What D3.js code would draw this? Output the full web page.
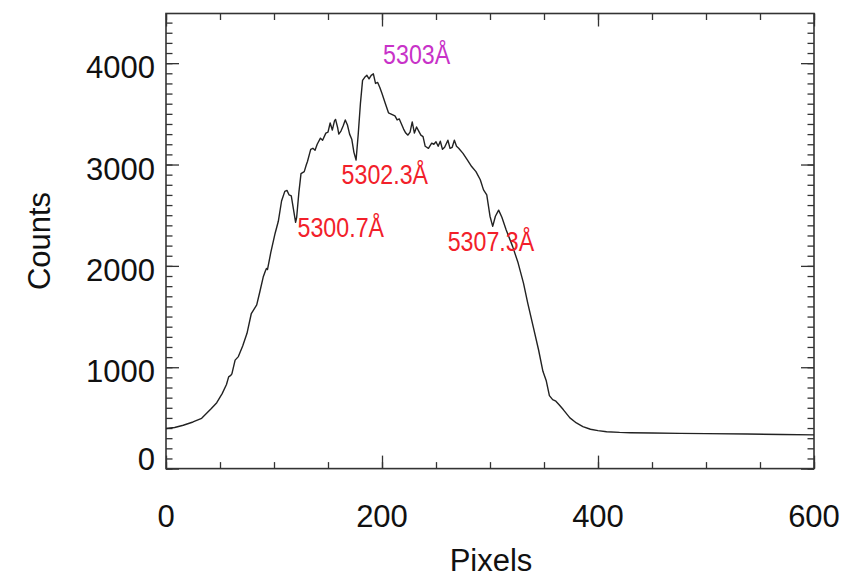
<!DOCTYPE html>
<html>
<head>
<meta charset="utf-8">
<script src="https://cdn.jsdelivr.net/npm/d3@7"></script>
<style>
  body { margin: 0; background: #fff; }
  text { font-family: "Liberation Sans", Arial, Helvetica, sans-serif; }
</style>
</head>
<body>
<script>
// spectrum: detector pixel vs counts
var pixels = [0, 8, 16, 25, 33, 42, 47, 52, 56, 58, 60, 61, 64, 67, 71, 75, 79, 82, 84, 87,
  90, 92, 93, 94, 97, 101, 104, 107, 110, 112, 114, 116, 118, 120, 121, 123, 125, 128, 130, 131,
  133, 134, 136, 138, 140, 143, 145, 148, 150, 152, 154, 156, 157, 159, 160, 162, 164, 166, 168, 170,
  172, 174, 176, 178, 180, 182, 184, 186, 188, 190, 192, 194, 196, 198, 200, 203, 206, 208, 210, 212,
  214, 216, 218, 220, 222, 224, 226, 228, 230, 232, 234, 236, 238, 240, 243, 246, 248, 250, 252, 254,
  256, 258, 261, 263, 265, 267, 269, 271, 275, 279, 283, 287, 291, 294, 297, 300, 302.5, 305, 308, 311,
  315, 321, 326, 331, 335, 340, 345, 349, 352, 355, 358, 361, 364, 368, 374, 380, 386, 393, 400, 408,
  420, 430, 450, 476, 500, 538, 570, 600];
var counts = [395, 405, 428, 460, 496, 592, 650, 740, 830, 905, 920, 935, 1070, 1105, 1210, 1335, 1530, 1580, 1615, 1750,
  1890, 1950, 1975, 1965, 2130, 2320, 2440, 2640, 2735, 2745, 2700, 2690, 2560, 2430, 2480, 2720, 2910, 2930, 3000, 3030,
  3110, 3150, 3160, 3140, 3200, 3260, 3240, 3310, 3320, 3410, 3340, 3430, 3445, 3360, 3300, 3330, 3380, 3440, 3390, 3300,
  3250, 3120, 3045, 3300, 3600, 3830, 3860, 3880, 3845, 3880, 3895, 3800, 3810, 3760, 3700, 3605, 3510, 3500, 3490, 3480,
  3440, 3450, 3400, 3350, 3310, 3290, 3320, 3420, 3310, 3370, 3330, 3290, 3275, 3180, 3160, 3210, 3200, 3225, 3180, 3230,
  3150, 3170, 3240, 3160, 3170, 3240, 3180, 3160, 3110, 3045, 2980, 2930, 2850, 2750, 2700, 2490, 2390, 2490, 2550, 2480,
  2355, 2190, 2030, 1830, 1630, 1400, 1170, 960, 870, 720, 680, 665, 630, 580, 500, 450, 415, 388, 375, 364,
  357, 354, 351, 348, 345, 341, 337, 333];

// line identifications (text start in data coords)
var lineNames = ["5303Å", "5302.3Å", "5300.7Å", "5307.3Å"];
var lineX = [201, 162.6, 121.8, 260.8];
var lineY = [3990, 2803, 2289, 2150];
var lineColors = ["#c832c8", "#f2202a", "#f2202a", "#f2202a"];

var xTicks = [0, 200, 400, 600];
var yTicks = [0, 1000, 2000, 3000, 4000];

var W = 846, H = 578;
var margin = {top: 13.5, right: 32, bottom: 109.4, left: 166};
var w = W - margin.left - margin.right,
    h = H - margin.top - margin.bottom;

var svg = d3.select("body").append("svg")
    .attr("width", W)
    .attr("height", H);
var g = svg.append("g")
    .attr("transform", "translate(" + margin.left + "," + margin.top + ")");

var x = d3.scaleLinear().domain([0, 600]).range([0, w]);
var y = d3.scaleLinear().domain([0, 4490]).range([h, 0]);

// tick marks on all four sides, pointing inward
function ticks(axisFn, vals, size, tr) {
    var a = g.append("g")
        .attr("transform", tr)
        .call(axisFn.tickValues(vals).tickSize(size).tickFormat(""));
    a.select(".domain").remove();
    a.selectAll("line").attr("stroke", "#333").attr("stroke-width", 1.3);
}
var xMinor = d3.range(0, 601, 50), yMinor = d3.range(0, 4490, 100);
ticks(d3.axisBottom(x), xMinor, -6.5, "translate(0," + h + ")");
ticks(d3.axisBottom(x), xTicks, -13, "translate(0," + h + ")");
ticks(d3.axisTop(x), xMinor, -6.5, null);
ticks(d3.axisTop(x), xTicks, -13, null);
ticks(d3.axisLeft(y), yMinor, -6.5, null);
ticks(d3.axisLeft(y), yTicks, -13, null);
ticks(d3.axisRight(y), yMinor, -6.5, "translate(" + w + ",0)");
ticks(d3.axisRight(y), yTicks, -13, "translate(" + w + ",0)");

g.append("rect")
    .attr("width", w).attr("height", h)
    .attr("fill", "none")
    .attr("stroke", "#333")
    .attr("stroke-width", 1.6);

// tick labels
g.selectAll(".xl").data(xTicks).enter().append("text")
    .attr("x", function(d){ return x(d); })
    .attr("y", h + 58)
    .attr("text-anchor", "middle")
    .attr("font-size", 31)
    .attr("fill", "#111")
    .text(function(d){ return d; });
g.selectAll(".yl").data(yTicks).enter().append("text")
    .attr("x", -11)
    .attr("y", function(d){ return Math.min(y(d) + 15, h + 1.5); })
    .attr("text-anchor", "end")
    .attr("font-size", 31)
    .attr("fill", "#111")
    .text(function(d){ return d; });

// axis titles
svg.append("text")
    .attr("x", margin.left + w / 2 + 1)
    .attr("y", 571)
    .attr("text-anchor", "middle")
    .attr("font-size", 31)
    .attr("fill", "#111")
    .text("Pixels");
svg.append("text")
    .attr("transform", "translate(50,241) rotate(-90)")
    .attr("text-anchor", "middle")
    .attr("font-size", 31)
    .attr("fill", "#111")
    .text("Counts");

// the spectrum
var line = d3.line()
    .x(function(d){ return x(d[0]); })
    .y(function(d){ return y(d[1]); });
g.append("path")
    .datum(d3.zip(pixels, counts))
    .attr("d", line)
    .attr("fill", "none")
    .attr("stroke", "#222")
    .attr("stroke-width", 1.4)
    .attr("stroke-linejoin", "round");

// line labels, slightly condensed like the original
g.selectAll(".ann").data(lineNames).enter().append("text")
    .attr("transform", function(d, i){
        return "translate(" + x(lineX[i]) + "," + y(lineY[i]) + ") scale(0.86,1)";
    })
    .attr("font-size", 27)
    .attr("fill", function(d, i){ return lineColors[i]; })
    .text(function(d){ return d; });
</script>
</body>
</html>
